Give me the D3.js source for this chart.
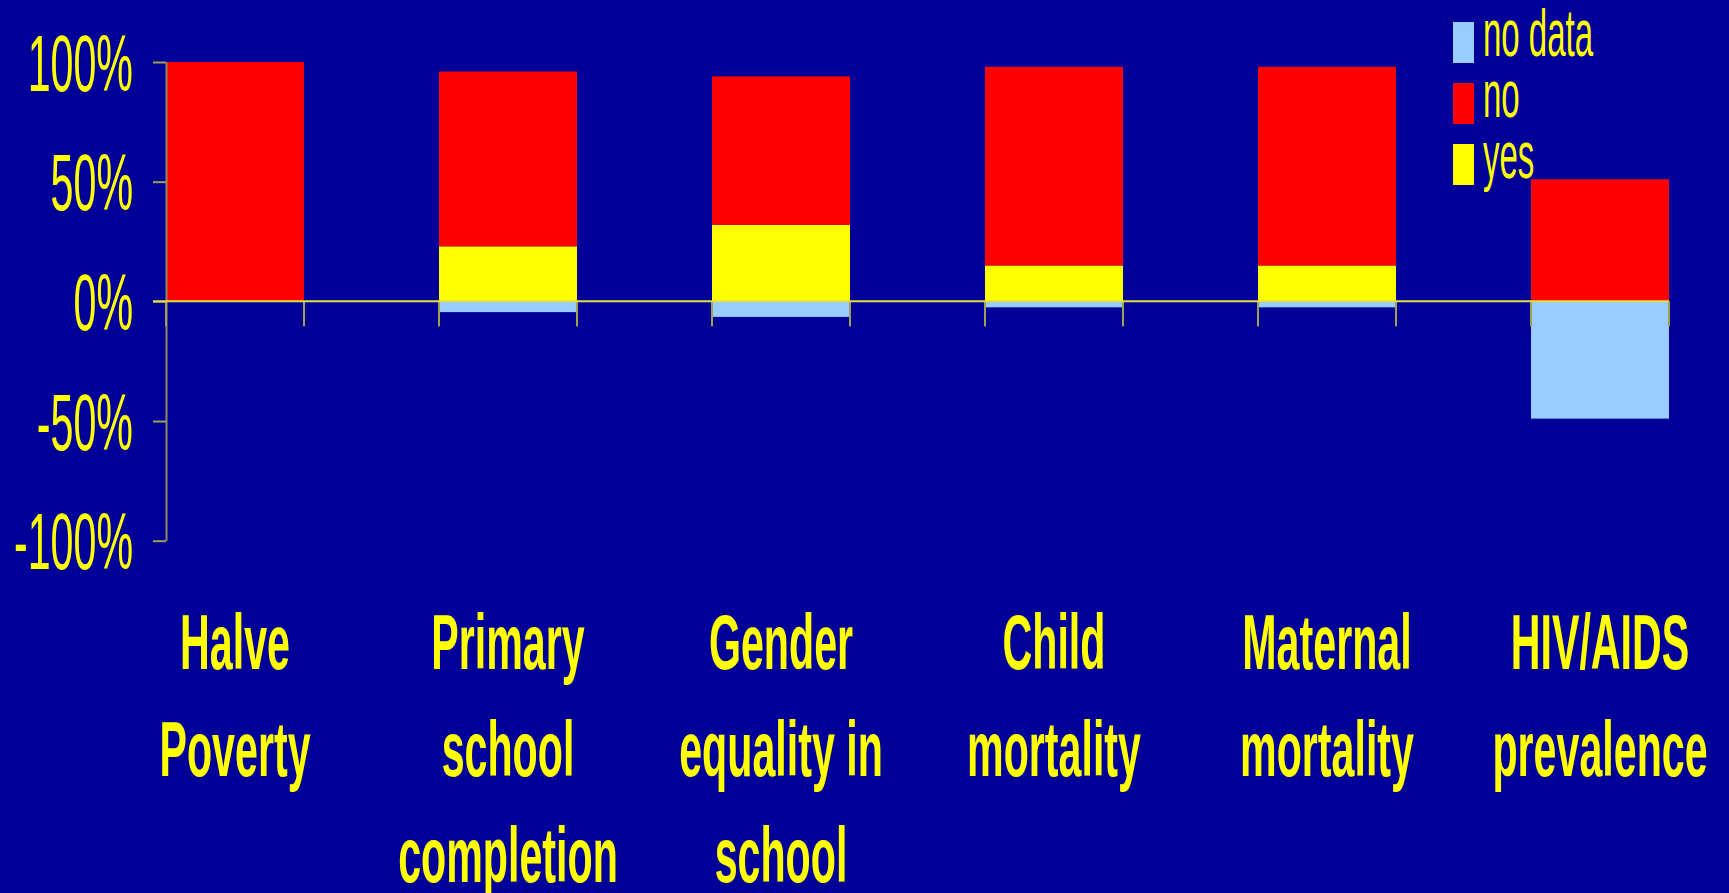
<!DOCTYPE html>
<html>
<head>
<meta charset="utf-8">
<script src="https://cdn.jsdelivr.net/npm/d3@7"></script>
<style>
  html, body { margin: 0; padding: 0; background: #000099; overflow: hidden; }
  svg { display: block; }
</style>
</head>
<body>
<svg id="chart" width="1729" height="893"></svg>
<script>
// chart data
var categories = ["Halve Poverty", "Primary school completion", "Gender equality in school",
                  "Child mortality", "Maternal mortality", "HIV/AIDS prevalence"];
var categoryLines = [["Halve", "Poverty"], ["Primary", "school", "completion"], ["Gender", "equality in", "school"],
                     ["Child", "mortality"], ["Maternal", "mortality"], ["HIV/AIDS", "prevalence"]];
var yesValues = [0, 23, 32, 15, 15, 0];
var noValues = [100, 73, 62, 83, 83, 51];
var noDataValues = [0, 4.5, 6.5, 2.5, 2.5, 49];
var yTicks = [-100, -50, 0, 50, 100];
var legendNames = ["no data", "no", "yes"];
var legendColors = ["#99ccff", "#ff0000", "#ffff00"];

var svg = d3.select("#chart");
var yellow = "#ffff00";
var axisColor = "#a0a055";

svg.append("rect").attr("width", 1729).attr("height", 893).attr("fill", "#000099");

var x = d3.scaleBand()
    .domain(categories)
    .range([166, 1669])
    .paddingInner(0.4945)
    .paddingOuter(0)
    .align(0);

var y = d3.scaleLinear()
    .domain([-100, 100])
    .range([540.7, 62]);

// bars
var rows = categories.map(function (c, i) {
    return { cat: c, yes: yesValues[i], no: noValues[i], nd: noDataValues[i] };
});

var g = svg.append("g");

g.selectAll(".nodata").data(rows).enter().append("rect")
    .attr("fill", "#99ccff")
    .attr("x", function (d) { return x(d.cat); })
    .attr("width", x.bandwidth())
    .attr("y", y(0))
    .attr("height", function (d) { return y(-d.nd) - y(0); });

g.selectAll(".yes").data(rows).enter().append("rect")
    .attr("fill", "#ffff00")
    .attr("x", function (d) { return x(d.cat); })
    .attr("width", x.bandwidth())
    .attr("y", function (d) { return y(d.yes); })
    .attr("height", function (d) { return y(0) - y(d.yes); });

g.selectAll(".no").data(rows).enter().append("rect")
    .attr("fill", "#ff0000")
    .attr("x", function (d) { return x(d.cat); })
    .attr("width", x.bandwidth())
    .attr("y", function (d) { return y(d.yes + d.no); })
    .attr("height", function (d) { return y(d.yes) - y(d.yes + d.no); });

// y axis
var yAxis = svg.append("g")
    .attr("transform", "translate(166,0)")
    .call(d3.axisLeft(y).tickValues(yTicks).tickSize(13).tickSizeOuter(0)
        .tickFormat(function (d) { return d + "%"; }));

yAxis.select(".domain").attr("stroke", "#8c8c5a").attr("stroke-width", 2);
yAxis.selectAll(".tick line").attr("stroke", axisColor).attr("stroke-width", 2);
yAxis.selectAll(".tick text")
    .attr("x", 0)
    .attr("dy", "0.35em")
    .attr("transform", "translate(-33,0) scale(0.515,1)")
    .attr("fill", yellow)
    .style("font-family", "'Liberation Sans', Arial, sans-serif")
    .style("font-size", "80px");

// category ticks at both bar edges
var edges = [];
categories.forEach(function (c) {
    edges.push(x(c));
    edges.push(x(c) + x.bandwidth());
});
svg.selectAll(".cattick").data(edges).enter().append("line")
    .attr("x1", function (d) { return d; })
    .attr("x2", function (d) { return d; })
    .attr("y1", y(0))
    .attr("y2", y(0) + 25)
    .attr("stroke", axisColor)
    .attr("stroke-width", 2);

// zero line
svg.append("line")
    .attr("x1", 153)
    .attr("x2", x(categories[categories.length - 1]) + x.bandwidth())
    .attr("y1", y(0))
    .attr("y2", y(0))
    .attr("stroke", "#e0e040")
    .attr("stroke-width", 2);

// category labels
categoryLines.forEach(function (lines, i) {
    var cx = x(categories[i]) + x.bandwidth() / 2;
    lines.forEach(function (t, j) {
        svg.append("text")
            .attr("transform", "translate(" + cx + "," + (669 + j * 106.5) + ") scale(0.535,1)")
            .attr("text-anchor", "middle")
            .attr("fill", yellow)
            .style("font-family", "'Liberation Sans', Arial, sans-serif")
            .style("font-weight", "bold")
            .style("font-size", "77px")
            .text(t);
    });
});

// legend
var legend = svg.append("g");
legendNames.forEach(function (name, i) {
    legend.append("rect")
        .attr("x", 1453)
        .attr("y", 22 + i * 61)
        .attr("width", 21)
        .attr("height", 41)
        .attr("fill", legendColors[i]);
    legend.append("text")
        .attr("transform", "translate(1483," + (56 + i * 61) + ") scale(0.5,1)")
        .attr("fill", yellow)
        .style("font-family", "'Liberation Sans', Arial, sans-serif")
        .style("font-size", "66px")
        .text(name);
});
</script>
</body>
</html>
